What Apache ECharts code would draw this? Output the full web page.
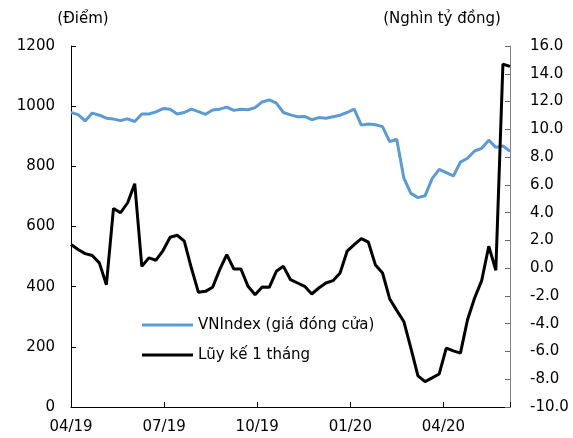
<!DOCTYPE html>
<html>
<head>
<meta charset="utf-8">
<script src="https://cdn.jsdelivr.net/npm/echarts@6/dist/echarts.min.js"></script>
<style>
html,body{margin:0;padding:0;background:#fff;}
#c{width:573px;height:438px;}
</style>
</head>
<body>
<div id="c"></div>
<script>
// Weekly observations, 04/2019 - 06/2020
const weeks = Array.from({length: 63}, (_, i) => 'W' + (i + 1));
const tickLabels = ['04/19', '07/19', '10/19', '01/20', '04/20'];
const weeksPerTick = 13.15;

const vnIndex = [979, 972, 951, 977, 970, 960, 957, 952, 958, 949,
  974, 974, 981, 992, 990, 974, 979, 990, 982, 973,
  987, 990, 997, 986, 990, 988, 995, 1014, 1021, 1010,
  979, 971, 965, 966, 955, 962, 960, 965, 970, 979,
  990, 937, 941, 938, 932, 882, 890, 762, 710, 696,
  702, 759, 790, 779, 768, 814, 827, 851, 860, 887,
  863, 868, 850];

const cumMonth = [1.70, 1.34, 1.05, 0.91, 0.38, -1.19, 4.30, 3.99, 4.71, 6.08,
  0.13, 0.74, 0.57, 1.27, 2.23, 2.37, 1.94, 0.01, -1.74, -1.67,
  -1.38, -0.11, 0.98, -0.06, -0.06, -1.31, -1.91, -1.36, -1.38, -0.23,
  0.13, -0.83, -1.07, -1.31, -1.86, -1.43, -1.07, -0.90, -0.35, 1.22,
  1.70, 2.13, 1.87, 0.22, -0.35, -2.20, -3.04, -3.84, -5.76, -7.76,
  -8.17, -7.90, -7.62, -5.76, -5.96, -6.12, -3.72, -2.15, -0.90, 1.58,
  -0.15, 14.70, 14.53];

const FONT = 'DejaVu Sans';
const chart = echarts.init(document.getElementById('c'), null, {renderer: 'canvas'});
chart.setOption({
  animation: false,
  backgroundColor: '#fff',
  textStyle: {fontFamily: FONT, color: '#000'},
  grid: {left: 71, right: 63, top: 46, bottom: 31},
  legend: {
    orient: 'vertical',
    left: 137, top: 311,
    icon: 'rect',
    itemWidth: 51, itemHeight: 3,
    itemGap: 12,
    textStyle: {fontFamily: FONT, fontSize: 15, color: '#000', lineHeight: 18},
    data: ['VNIndex (giá đóng cửa)', 'Lũy kế 1 tháng']
  },
  xAxis: [{
    type: 'category',
    data: weeks,
    boundaryGap: false,
    axisLine: {show: true, onZero: false, lineStyle: {color: '#000', width: 1}},
    axisTick: {show: false},
    axisLabel: {show: false},
    splitLine: {show: false}
  }, {
    type: 'value',
    position: 'bottom',
    offset: 0,
    min: 0, max: weeks.length - 1,
    interval: weeksPerTick,
    axisLine: {show: false, onZero: false},
    axisTick: {show: true, inside: true, length: 5, lineStyle: {color: '#000'}},
    splitLine: {show: false},
    axisLabel: {
      fontFamily: FONT, fontSize: 15, color: '#000', margin: 13,
      showMinLabel: true, showMaxLabel: true, hideOverlap: false,
      formatter: function (v) {
        const k = Math.round(v / weeksPerTick);
        return (Math.abs(k * weeksPerTick - v) < 0.01 && k < tickLabels.length) ? tickLabels[k] : '';
      }
    }
  }],
  yAxis: [{
    type: 'value',
    min: 0, max: 1200, interval: 200,
    name: '(Điểm)',
    nameLocation: 'end',
    nameGap: 19,
    nameTextStyle: {fontFamily: FONT, fontSize: 15, color: '#000', align: 'center', padding: [0, 0, 0, 24]},
    axisLine: {show: true, onZero: false, lineStyle: {color: '#000', width: 1}},
    axisTick: {show: true, inside: true, length: 5, lineStyle: {color: '#000'}},
    axisLabel: {fontFamily: FONT, fontSize: 15, color: '#000', margin: 16,
      formatter: function (v) { return String(v); }},
    splitLine: {show: false}
  }, {
    type: 'value',
    min: -10, max: 16, interval: 2,
    name: '(Nghìn tỷ đồng)',
    nameLocation: 'end',
    nameGap: 19,
    nameTextStyle: {fontFamily: FONT, fontSize: 15, color: '#000', align: 'center', padding: [0, 136, 0, 0]},
    axisLine: {show: true, onZero: false, lineStyle: {color: '#808080', width: 1}},
    axisTick: {show: true, inside: true, length: 5, lineStyle: {color: '#666'}},
    axisLabel: {fontFamily: FONT, fontSize: 15, color: '#000', margin: 20,
      formatter: function (v) { return v.toFixed(1); }},
    splitLine: {show: false}
  }],
  series: [{
    name: 'VNIndex (giá đóng cửa)',
    type: 'line',
    xAxisIndex: 0, yAxisIndex: 0,
    data: vnIndex,
    showSymbol: false,
    symbol: 'none',
    lineStyle: {color: '#5B9BD5', width: 3},
    itemStyle: {color: '#5B9BD5'}
  }, {
    name: 'Lũy kế 1 tháng',
    type: 'line',
    xAxisIndex: 0, yAxisIndex: 1,
    data: cumMonth,
    showSymbol: false,
    symbol: 'none',
    lineStyle: {color: '#000', width: 3},
    itemStyle: {color: '#000'}
  }]
});
</script>
</body>
</html>
